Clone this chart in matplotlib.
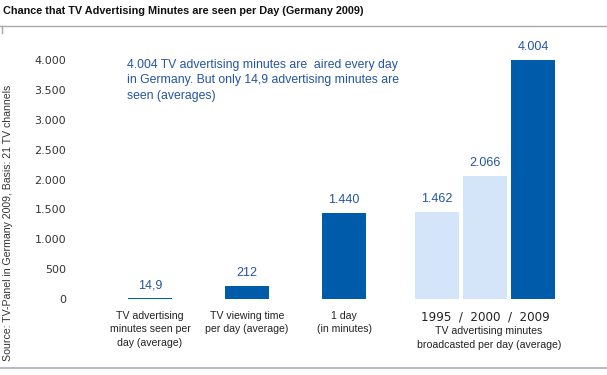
import matplotlib.pyplot as plt
import numpy as np

# data
values = [14.9, 212, 1440, 1462, 2066, 4004]
value_labels = ["14,9", "212", "1.440", "1.462", "2.066", "4.004"]
light = [False, False, False, True, True, False]
yticks = [0, 500, 1000, 1500, 2000, 2500, 3000, 3500, 4000]
ytick_labels = ["0", "500", "1.000", "1.500", "2.000", "2.500", "3.000", "3.500", "4.000"]
cat_labels = ["TV advertising\nminutes seen per\nday (average)",
              "TV viewing time\nper day (average)",
              "1 day\n(in minutes)"]
years = ["1995", "2000", "2009"]
group_label = "TV advertising minutes\nbroadcasted per day (average)"

title = "Chance that TV Advertising Minutes are seen per Day (Germany 2009)"
note = ("4.004 TV advertising minutes are  aired every day\n"
        "in Germany. But only 14,9 advertising minutes are\n"
        "seen (averages)")
source = "Source: TV-Panel in Germany 2009, Basis: 21 TV channels"

dark_blue = "#005BAA"
light_blue = "#D5E5F9"
text_blue = "#2454A3"

W, H = 607, 375
fig = plt.figure(figsize=(W / 100, H / 100), dpi=100)
plt.rcParams['font.family'] = ['Liberation Sans', 'DejaVu Sans']

# axes placed in pixel terms: baseline at y=299, ~0.0597 px per minute
ax_left, ax_right = 120, 580
base_y, top_y = 299, 40
ax = fig.add_axes([ax_left / W, (H - base_y) / H, (ax_right - ax_left) / W, (base_y - top_y) / H])
px_per_unit = 0.0597
ax.set_ylim(0, (base_y - top_y) / px_per_unit)

# x positions: three single bars, then a group of three
x = np.array([0, 1, 2, 2.96, 3.455, 3.95])
ax.set_xlim((ax_left - 150) / 97, (ax_right - 150) / 97)
colors = [light_blue if l else dark_blue for l in light]
ax.bar(x, values, width=0.455, color=colors, linewidth=0)

for xi, v, lab in zip(x, values, value_labels):
    ax.annotate(lab, (xi, v), xytext=(0, 5), textcoords="offset points",
                ha="center", va="bottom", color=text_blue, fontsize=9)

for s in ax.spines.values():
    s.set_visible(False)
ax.set_xticks([])
ax.set_yticks(yticks)
ax.set_yticklabels(ytick_labels, family="DejaVu Sans", fontsize=8, color="#333333")
ax.tick_params(axis="y", length=0, pad=(ax_left - 66) * 0.72)

# category labels under the bars
for xi, lab in zip(x[:3], cat_labels):
    ax.text(xi, -200, lab, ha="center", va="top", fontsize=7.6, color="#222222",
            linespacing=1.42)
ax.text(x[4], -200, "  /  ".join(years), ha="center", va="top", family="DejaVu Sans",
        fontsize=8.6, color="#222222")
ax.text(x[4] + 0.04, -460, group_label, ha="center", va="top", fontsize=7.6,
        color="#222222", linespacing=1.42)

# annotation
fig.text(127 / W, 1 - 59 / H, note, ha="left", va="top", fontsize=8.8,
         color=text_blue, linespacing=1.38)

# title, frame lines, source
fig.text(3 / W, 1 - 11 / H, title, ha="left", va="center", fontsize=7.8,
         fontweight="bold", color="#111111")
fig.add_artist(plt.Line2D([0, 1], [1 - 26 / H, 1 - 26 / H], color="#A8A8A8", lw=1))
fig.add_artist(plt.Line2D([2 / W, 2 / W], [1 - 26 / H, 1 - 33 / H], color="#A8A8A8", lw=1))
fig.add_artist(plt.Line2D([0, 1], [1 - 368 / H, 1 - 368 / H], color="#ADAAC6", lw=1.2))
fig.text(8 / W, 1 - 223 / H, source, rotation=90, ha="center", va="center",
         fontsize=7.6, color="#333333")

fig.savefig("out.png", dpi=100)
